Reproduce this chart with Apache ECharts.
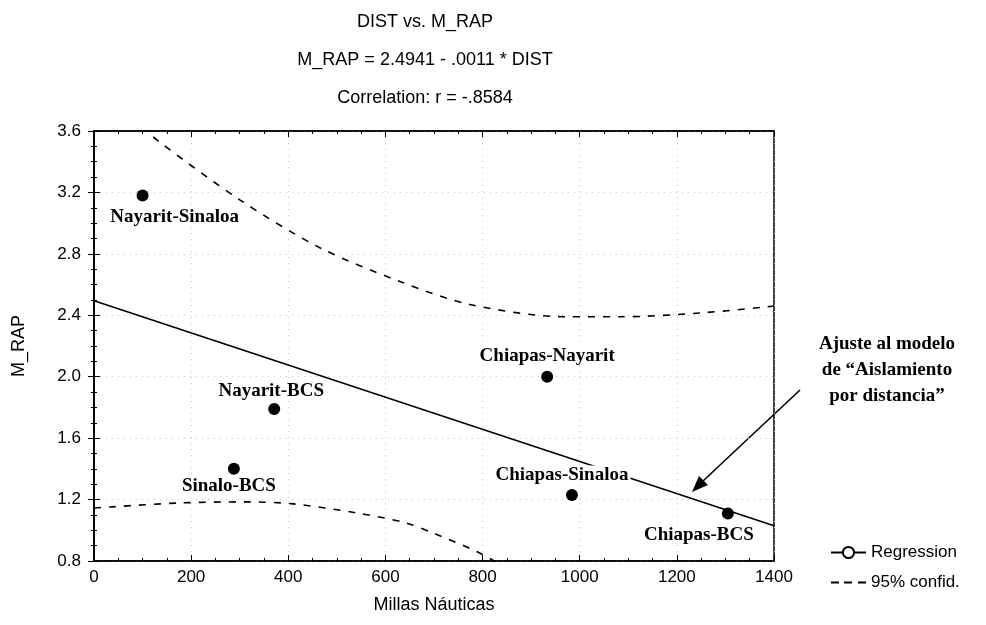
<!DOCTYPE html>
<html><head><meta charset="utf-8">
<script src="https://cdn.jsdelivr.net/npm/echarts@6/dist/echarts.min.js"></script>
<style>html,body{margin:0;padding:0;background:#fff}#c{width:986px;height:625px}</style>
</head><body><div id="c"></div>
<script>
// ---- data ----
const pointNames = ['Nayarit-Sinaloa', 'Nayarit-BCS', 'Sinalo-BCS', 'Chiapas-Nayarit', 'Chiapas-Sinaloa', 'Chiapas-BCS'];
const pointDist  = [100, 371, 288, 933, 984, 1305];
const pointMRap  = [3.18, 1.79, 1.40, 2.00, 1.23, 1.11];

const regressionX = [0, 1400];
const regressionY = [2.494, 1.03];

const upperX = [100, 130, 301, 465, 630, 774, 974, 1083, 1248, 1400];
const upperY = [3.63, 3.54, 3.15, 2.84, 2.62, 2.47, 2.39, 2.39, 2.415, 2.46];

const lowerX = [0, 33, 177, 315, 410, 541, 640, 700, 789, 840];
const lowerY = [1.145, 1.152, 1.178, 1.185, 1.172, 1.113, 1.05, 0.98, 0.86, 0.77];

const xMin = 0, xMax = 1400, xStep = 200;
const yMin = 0.8, yMax = 3.6, yStep = 0.4;

const titleLines = ['DIST vs. M_RAP', 'M_RAP = 2.4941 - .0011 * DIST', 'Correlation: r = -.8584'];
const xName = 'Millas Náuticas';
const yName = 'M_RAP';
const legendNames = ['Regression', '95% confid.'];
const annotation = ['Ajuste al modelo', 'de \u201CAislamiento', 'por distancia\u201D'];

// ---- label placement (layout only) ----
const labelOffsets = {
  'Nayarit-Sinaloa': [32, 22],
  'Nayarit-BCS': [-3, -18],
  'Sinalo-BCS': [-5, 17],
  'Chiapas-Nayarit': [0, -21],
  'Chiapas-Sinaloa': [-10, -20],
  'Chiapas-BCS': [-29, 22]
};

const zip = (a, b) => a.map((v, i) => [v, b[i]]);
const sans = 'Liberation Sans, Arial, sans-serif';
const serif = 'Liberation Serif, Times New Roman, serif';

const chart = echarts.init(document.getElementById('c'), null, {renderer: 'canvas'});

const scatterData = pointNames.map((n, i) => ({
  name: n,
  value: [pointDist[i], pointMRap[i]],
  label: {offset: labelOffsets[n]}
}));

const baseX = {
  type: 'value', min: xMin, max: xMax, interval: xStep,
  axisLine: {show: true, lineStyle: {color: '#000', width: 1.5}},
  axisTick: {show: true, inside: true, length: 6, lineStyle: {color: '#000'}},
  minorTick: {show: true, splitNumber: 4, length: 3, lineStyle: {color: '#000'}},
};
const baseY = {
  type: 'value', min: yMin, max: yMax, interval: yStep,
  axisLine: {show: true, lineStyle: {color: '#000', width: 1.5}},
  axisTick: {show: true, inside: true, length: 6, lineStyle: {color: '#000'}},
  minorTick: {show: true, splitNumber: 4, length: 3, lineStyle: {color: '#000'}},
};

chart.setOption({
  animation: false,
  backgroundColor: '#fff',
  title: {
    text: titleLines.join('\n'),
    left: 425, top: 3, padding: 0, textAlign: 'center',
    textStyle: {fontFamily: sans, fontSize: 18, fontWeight: 'normal', color: '#000', lineHeight: 38}
  },
  grid: {left: 94, right: 212, top: 131, bottom: 64, show: true, borderColor: '#000', borderWidth: 1.5, backgroundColor: 'transparent'},
  legend: {
    data: [
      {name: legendNames[0]},
      {name: legendNames[1], icon: 'path://M0,4h8v2h-8z M13,4h8v2h-8z M27,4h8v2h-8z'}
    ],
    orient: 'vertical', left: 825, top: 539, itemWidth: 35, itemHeight: 14, itemGap: 13,
    textStyle: {fontFamily: sans, fontSize: 17, color: '#000'},
    selectedMode: false
  },
  xAxis: [
    Object.assign({}, baseX, {
      position: 'bottom',
      name: xName, nameLocation: 'middle', nameGap: 35,
      nameTextStyle: {fontFamily: sans, fontSize: 18, color: '#000'},
      axisLabel: {fontFamily: sans, fontSize: 17, color: '#000', margin: 8, formatter: v => String(v)},
      splitLine: {show: true, lineStyle: {color: '#c8c8c8', type: [1, 5], width: 1}}
    }),
    Object.assign({}, baseX, {position: 'top', axisLabel: {show: false}, splitLine: {show: false}})
  ],
  yAxis: [
    Object.assign({}, baseY, {
      position: 'left',
      name: yName, nameLocation: 'middle', nameGap: 66,
      nameTextStyle: {fontFamily: sans, fontSize: 18, color: '#000'},
      axisLabel: {fontFamily: sans, fontSize: 17, color: '#000', margin: 13, formatter: v => v.toFixed(1)},
      splitLine: {show: true, lineStyle: {color: '#c8c8c8', type: [1, 5], width: 1}}
    }),
    Object.assign({}, baseY, {position: 'right', axisLabel: {show: false}, splitLine: {show: false}})
  ],
  series: [
    {
      name: legendNames[0], type: 'line', data: zip(regressionX, regressionY),
      symbol: 'emptyCircle', symbolSize: 7, showSymbol: false,
      lineStyle: {color: '#000', width: 1.6}, itemStyle: {color: '#000'}, clip: true, z: 2
    },
    {
      name: legendNames[1], type: 'line', data: zip(upperX, upperY), smooth: 0.3,
      symbol: 'none', lineStyle: {color: '#000', width: 1.6, type: [7, 8]}, itemStyle: {color: '#000'}, clip: true, z: 2
    },
    {
      name: legendNames[1], type: 'line', data: zip(lowerX, lowerY), smooth: 0.3,
      symbol: 'none', lineStyle: {color: '#000', width: 1.6, type: [7, 8]}, itemStyle: {color: '#000'}, clip: true, z: 2
    },
    {
      name: 'points', type: 'scatter', data: scatterData,
      symbol: 'circle', symbolSize: 12, itemStyle: {color: '#000', opacity: 1}, z: 5,
      label: {
        show: true, position: 'inside', formatter: p => p.name, opacity: 1,
        fontFamily: serif, fontSize: 19, fontWeight: 'bold', color: '#000',
        backgroundColor: '#fff', padding: [0, 2]
      }
    }
  ],
  graphic: [
    {
      type: 'text', x: 887, y: 331,
      style: {
        text: annotation.join('\n'), fontFamily: serif, fontSize: 19, fontWeight: 'bold',
        fill: '#000', align: 'center', verticalAlign: 'top', lineHeight: 26
      }
    },
    {
      type: 'line', shape: {x1: 800, y1: 390, x2: 703, y2: 481},
      style: {stroke: '#000', lineWidth: 1.6}
    },
    {
      type: 'polygon', shape: {points: [[692, 492], [708, 485], [699, 476]]},
      style: {fill: '#000'}
    }
  ]
});
</script>
</body></html>
